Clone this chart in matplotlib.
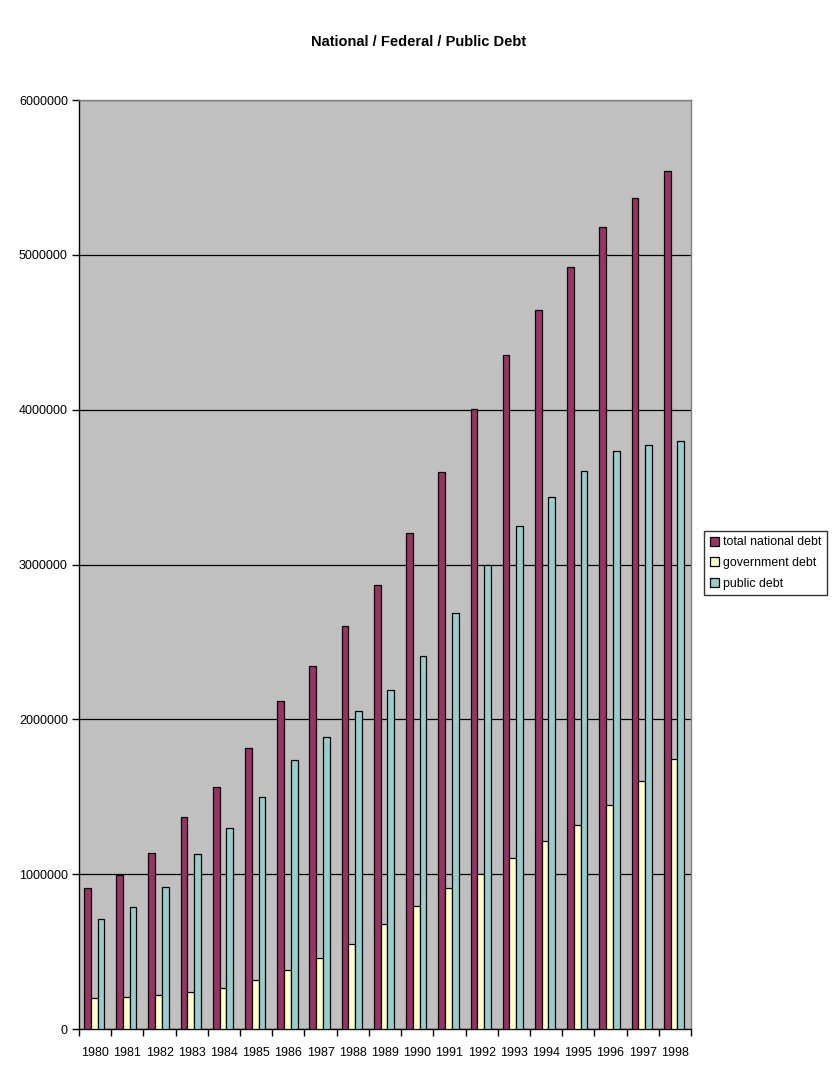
import matplotlib
matplotlib.use("Agg")
import matplotlib.pyplot as plt
import numpy as np

years = [str(y) for y in range(1980, 1999)]
total_national_debt = [907700, 994800, 1137300, 1371700, 1564600, 1817400, 2120500, 2346000,
                       2601100, 2867800, 3206300, 3598200, 4001800, 4351000, 4643300, 4920600,
                       5181500, 5369200, 5541000]
government_debt = [198000, 207000, 219000, 239000, 265000, 317000, 383000, 457000, 550000,
                   678000, 795000, 909000, 1003000, 1104000, 1212000, 1317000, 1447000,
                   1600000, 1743000]
public_debt = [708000, 786000, 915000, 1131000, 1300000, 1500000, 1737000, 1889000, 2051000,
               2190000, 2411000, 2689000, 2999000, 3248000, 3433000, 3604000, 3734000,
               3772000, 3796000]
series_names = ["total national debt", "government debt", "public debt"]
colors = ["#993366", "#FFFFCC", "#99CCCC"]

plt.rcParams['font.family'] = ['Liberation Sans', 'DejaVu Sans']

fig = plt.figure(figsize=(8.38, 10.78), dpi=100)
ax = fig.add_axes([79/838, 1-1029/1078, (691-79)/838, (1029-100)/1078])
ax.set_facecolor("#C0C0C0")

n = len(years)
x = np.arange(n) + 0.47
w = 0.21
for k, (vals, name, c) in enumerate(zip([total_national_debt, government_debt, public_debt],
                                        series_names, colors)):
    ax.bar(x + (k - 1) * w, vals, width=w, color=c, edgecolor="black", linewidth=0.9,
           label=name, zorder=3)

ax.set_xlim(0, n)
ax.set_ylim(0, 6000000)
ax.set_yticks(np.arange(0, 6000001, 1000000))
ax.set_yticklabels([str(v) for v in range(0, 6000001, 1000000)], fontsize=9)
ax.yaxis.grid(True, color="black", linewidth=0.9, zorder=1)
ax.set_axisbelow(True)

ax.set_xticks(np.arange(n) + 0.5)
ax.set_xticklabels(years, fontsize=9)
ax.set_xticks(np.arange(n + 1), minor=True)
ax.tick_params(axis='x', which='major', length=0, pad=13)
ax.tick_params(axis='x', which='minor', length=5, width=1, direction='out', color='black')
ax.tick_params(axis='y', length=5, width=1, direction='out', pad=3)

for s in ['left', 'bottom']:
    ax.spines[s].set_color('black')
    ax.spines[s].set_linewidth(1)
for s in ['top', 'right']:
    ax.spines[s].set_color('#808080')
    ax.spines[s].set_linewidth(1)

fig.text(419/838, 1-42/1078, "National / Federal / Public Debt", ha='center', va='center',
         fontsize=10.5, fontweight='bold')

leg = fig.legend(loc='center left', bbox_to_anchor=(704/838, 1-563/1078), fontsize=8.9,
                 frameon=True, fancybox=False, edgecolor='black', handlelength=0.75,
                 handleheight=0.75, handletextpad=0.35, borderpad=0.45, labelspacing=0.7,
                 borderaxespad=0)
leg.get_frame().set_linewidth(1)

fig.savefig("out.png", dpi=100, facecolor="white")
